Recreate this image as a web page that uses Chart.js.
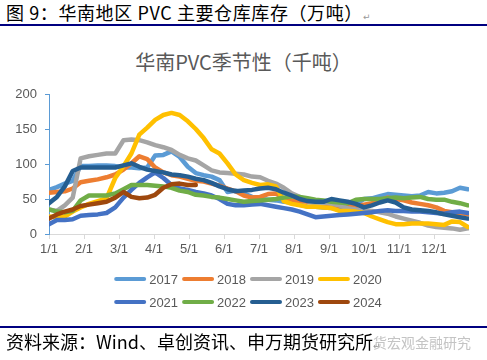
<!DOCTYPE html>
<html><head><meta charset="utf-8">
<script src="https://cdn.jsdelivr.net/npm/chart.js@4"></script>
<style>
html,body{margin:0;padding:0;background:#fff;}
#wrap{position:relative;width:487px;height:360px;overflow:hidden;font-family:"Noto Sans CJK SC",sans-serif;}
#hdr{position:absolute;left:6px;top:0px;font-size:18px;line-height:24px;color:#000;white-space:nowrap;letter-spacing:0.6px;}
#hdr .rt,#src .rt{font-family:"DejaVu Sans";font-size:9px;color:#999;}
#hline{position:absolute;left:0;top:24px;width:487px;height:2px;background:#000080;}
#ttl{position:absolute;left:0;width:487px;top:49px;text-align:center;font-size:20px;line-height:26px;color:#595959;}
#c{position:absolute;left:0;top:0;}
#fline{position:absolute;left:0;top:326px;width:487px;height:2px;background:#000080;}
#wm{position:absolute;left:373px;top:332px;font-size:14px;line-height:20px;color:#c4c4c4;white-space:nowrap;}
#src{position:absolute;left:6px;top:329px;font-size:18px;line-height:24px;color:#000;white-space:nowrap;letter-spacing:0px;}
</style></head>
<body>
<div id="wrap">
  <div id="hdr">图 9：华南地区 PVC 主要仓库库存（万吨）<span class="rt">↵</span></div>
  <div id="hline"></div>
  <div id="ttl">华南PVC季节性（千吨）</div>
  <canvas id="c" width="487" height="360"></canvas>
  <div id="fline"></div>
  <div id="wm">货宏观金融研究</div>
  <div id="src">资料来源：Wind、卓创资讯、申万期货研究所<span class="rt">↵</span></div>
</div>
<script>
// ---- data ----
const weekDates = ['1/1','1/8','1/15','1/22','1/29','2/5','2/12','2/19','2/26','3/5','3/12','3/19','3/26',
  '4/2','4/9','4/16','4/23','4/30','5/7','5/14','5/21','5/28','6/4','6/11','6/18','6/25',
  '7/2','7/9','7/16','7/23','7/30','8/6','8/13','8/20','8/27','9/3','9/10','9/17','9/24',
  '10/1','10/8','10/15','10/22','10/29','11/5','11/12','11/19','11/26','12/3','12/10','12/17','12/24','12/31'];
const xTickLabels = ['1/1','2/1','3/1','4/1','5/1','6/1','7/1','8/1','9/1','10/1','11/1','12/1'];
const yTicks = [0,50,100,150,200];
const seriesNames = ['2017','2018','2019','2020','2021','2022','2023','2024'];
const seriesColors = ['#5B9BD5','#ED7D31','#A5A5A5','#FFC000','#4472C4','#70AD47','#255E91','#9E480E'];
const v2017 = [63,67,72,76,97,97,98,98,97,95,95,94,95,112,113,118,110,96,87,84,82,77,60,62,58,53,50,49,48,46,45,42,39,39,38,37,36,35,42,50,51,54,57,56,55,54,55,60,58,59,61,66,64];
const v2018 = [59,60,61,65,74,76,78,81,85,92,101,111,107,95,88,84,82,79,76,75,72,69,65,61,55,52,53,57,58,51,48,47,46,45,44,42,40,40,40,42,44,48,52,50,48,45,43,41,38,33,31,30,28];
const v2019 = [35,33,41,52,108,111,113,115,115,134,135,134,131,127,124,120,113,108,105,98,91,88,87,86,85,82,81,76,72,66,58,53,47,44,45,43,41,37,35,34,33,31,29,25,22,19,16,12,10,9,8,6,8];
const v2020 = [25,24,25,32,38,43,47,51,80,97,115,142,152,163,170,173,170,161,150,137,121,115,101,85,77,73,70,71,68,47,43,41,39,39,38,37,33,33,32,30,25,21,17,14,14,15,15,15,14,13,18,17,10];
const v2021 = [14,20,20,21,26,27,28,30,38,52,63,73,81,88,80,70,65,63,60,58,55,50,43,41,41,42,43,41,39,37,35,32,28,24,25,26,27,28,29,30,31,33,34,33,33,32,32,31,30,29,31,32,30];
const v2022 = [35,32,31,33,48,55,55,55,58,64,70,70,70,69,68,66,62,60,56,55,53,52,50,48,46,47,48,49,50,52,54,53,51,49,48,46,45,44,49,50,50,50,51,52,51,52,53,50,49,49,46,44,41];
const v2023 = [44,53,68,90,95,95,95,95,95,98,101,96,92,90,88,85,84,82,79,77,73,68,64,61,62,63,65,66,64,59,55,50,47,46,46,50,48,46,43,38,41,45,48,45,38,35,34,33,31,28,26,24,22];
const v2024 = [22,28,32,35,40,42,44,46,52,60,53,51,52,56,66,71,72,70,70];
const seriesValues = [v2017,v2018,v2019,v2020,v2021,v2022,v2023,v2024];

// month-based position of a "m/d" date (months spaced evenly, like the source axis)
const monthLen = [31,28,31,30,31,30,31,31,30,31,30,31];
function dateToX(s){ const [m,d] = s.split('/').map(Number); return (m-1) + (d-1)/monthLen[m-1]; }
const xTickValues = xTickLabels.map(dateToX);

const datasets = seriesValues.map((vals, k) => ({
  label: seriesNames[k],
  data: vals.map((v,i) => ({x: dateToX(weekDates[i]), y: v})),
  borderColor: seriesColors[k],
  backgroundColor: seriesColors[k],
  borderWidth: 4.5,
  pointRadius: 0,
  tension: 0,
  borderJoinStyle: 'round',
  borderCapStyle: 'round',
  order: seriesNames.length - k
}));

const legendPlugin = {
  id: 'rowLegend',
  afterDraw(chart){
    const ctx = chart.ctx, ca = chart.chartArea;
    ctx.save();
    ctx.font = '13px "Liberation Sans", Arial, sans-serif';
    ctx.textBaseline = 'middle';
    const lineW = 32, gap = 3, itemGap = 4;
    const rows = [[0,1,2,3],[4,5,6,7]];
    const rowY = [ca.bottom + 45, ca.bottom + 68];
    rows.forEach((row, r) => {
      const widths = row.map(k => lineW + gap + ctx.measureText(seriesNames[k]).width);
      const total = widths.reduce((a,b)=>a+b,0) + itemGap*(row.length-1);
      let x = 248 - total/2;
      row.forEach((k, j) => {
        ctx.strokeStyle = seriesColors[k];
        ctx.lineWidth = 4;
        ctx.lineCap = 'round';
        ctx.beginPath(); ctx.moveTo(x+2, rowY[r]); ctx.lineTo(x+lineW-2, rowY[r]); ctx.stroke();
        ctx.fillStyle = '#595959';
        ctx.fillText(seriesNames[k], x + lineW + gap, rowY[r] + 1);
        x += widths[j] + itemGap;
      });
    });
    ctx.restore();
  }
};

new Chart(document.getElementById('c'), {
  type: 'line',
  data: { datasets },
  options: {
    responsive: false,
    animation: false,
    layout: { padding: { top: 94, right: 18, left: 0, bottom: 0 } },
    plugins: { legend: { display: false }, title: { display: false }, tooltip: { enabled: false } },
    scales: {
      x: {
        type: 'linear', min: 0, max: 12,
        afterBuildTicks: s => { s.ticks = xTickValues.map(v => ({value: v})); },
        afterFit: s => { s.height = 126; },
        ticks: { autoSkip: false, maxRotation: 0, padding: 3, color: '#595959',
                 font: { family: '"Liberation Sans", Arial, sans-serif', size: 13 },
                 callback: (v, i) => xTickLabels[i] },
        grid: { drawOnChartArea: false, color: '#D9D9D9', tickLength: 5 },
        border: { color: '#D9D9D9', width: 1 }
      },
      y: {
        min: 0, max: 200,
        afterBuildTicks: s => { s.ticks = yTicks.map(v => ({value: v})); },
        afterFit: s => { s.width = 49; },
        ticks: { padding: 8, color: '#595959',
                 font: { family: '"Liberation Sans", Arial, sans-serif', size: 13 } },
        grid: { drawOnChartArea: false, color: '#5B9BD5', tickLength: 4 },
        border: { color: '#5B9BD5', width: 1 }
      }
    }
  },
  plugins: [legendPlugin]
});
</script>
</body></html>
